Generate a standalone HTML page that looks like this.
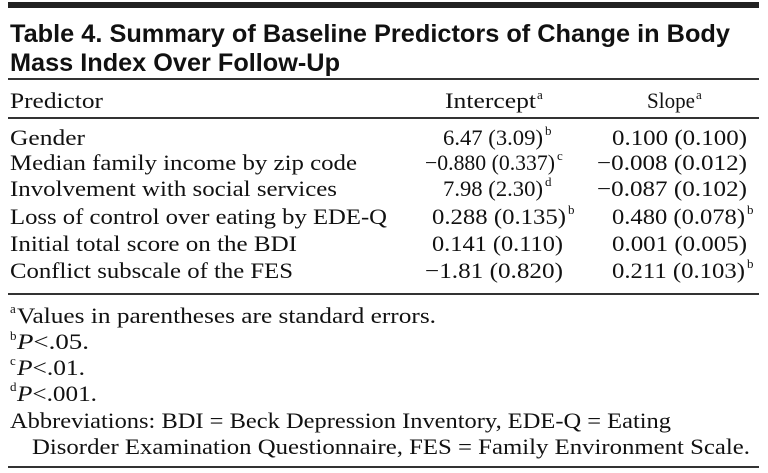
<!DOCTYPE html>
<html><head><meta charset="utf-8"><style>
html,body{margin:0;padding:0;background:#fff;}
svg{display:block;}
.t{font-family:"Liberation Sans",sans-serif;font-weight:bold;font-size:25px;fill:#111;}
.s{font-family:"Liberation Serif",serif;font-size:22px;fill:#111;}
.sup{font-family:"Liberation Serif",serif;font-size:13px;fill:#111;}
</style></head><body>
<svg width="768" height="473" viewBox="0 0 768 473" xmlns="http://www.w3.org/2000/svg">
<rect x="8" y="2" width="751" height="6" fill="#222"/>
<text class="t" x="10" y="42" textLength="720" lengthAdjust="spacingAndGlyphs">Table 4. Summary of Baseline Predictors of Change in Body</text>
<text class="t" x="10" y="71" textLength="330" lengthAdjust="spacingAndGlyphs">Mass Index Over Follow-Up</text>
<rect x="8" y="78" width="751" height="2" fill="#333"/>
<text class="s" x="10" y="108" textLength="93" lengthAdjust="spacingAndGlyphs">Predictor</text>
<text class="s" x="445" y="108" textLength="91" lengthAdjust="spacingAndGlyphs">Intercept</text><text class="sup" x="537" y="99">a</text>
<text class="s" x="647" y="108" textLength="48" lengthAdjust="spacingAndGlyphs">Slope</text><text class="sup" x="696" y="99">a</text>
<rect x="8" y="117" width="751" height="2" fill="#333"/>

<text class="s" x="10" y="145" textLength="75" lengthAdjust="spacingAndGlyphs">Gender</text>
<text class="s" x="443" y="145" textLength="100" lengthAdjust="spacingAndGlyphs">6.47 (3.09)</text><text class="sup" x="545" y="135">b</text>
<text class="s" x="612" y="145" textLength="135" lengthAdjust="spacingAndGlyphs">0.100 (0.100)</text>

<text class="s" x="10" y="170" textLength="347" lengthAdjust="spacingAndGlyphs">Median family income by zip code</text>
<text class="s" x="425" y="170" textLength="130" lengthAdjust="spacingAndGlyphs">−0.880 (0.337)</text><text class="sup" x="557" y="160">c</text>
<text class="s" x="597" y="170" textLength="150" lengthAdjust="spacingAndGlyphs">−0.008 (0.012)</text>

<text class="s" x="10" y="196" textLength="327" lengthAdjust="spacingAndGlyphs">Involvement with social services</text>
<text class="s" x="443" y="196" textLength="100" lengthAdjust="spacingAndGlyphs">7.98 (2.30)</text><text class="sup" x="545" y="186">d</text>
<text class="s" x="597" y="196" textLength="150" lengthAdjust="spacingAndGlyphs">−0.087 (0.102)</text>

<text class="s" x="10" y="224" textLength="377" lengthAdjust="spacingAndGlyphs">Loss of control over eating by EDE-Q</text>
<text class="s" x="432" y="224" textLength="134" lengthAdjust="spacingAndGlyphs">0.288 (0.135)</text><text class="sup" x="568" y="214">b</text>
<text class="s" x="612" y="224" textLength="133" lengthAdjust="spacingAndGlyphs">0.480 (0.078)</text><text class="sup" x="747" y="214">b</text>

<text class="s" x="10" y="251" textLength="287" lengthAdjust="spacingAndGlyphs">Initial total score on the BDI</text>
<text class="s" x="432" y="251" textLength="131" lengthAdjust="spacingAndGlyphs">0.141 (0.110)</text>
<text class="s" x="612" y="251" textLength="135" lengthAdjust="spacingAndGlyphs">0.001 (0.005)</text>

<text class="s" x="10" y="278" textLength="283" lengthAdjust="spacingAndGlyphs">Conflict subscale of the FES</text>
<text class="s" x="425" y="278" textLength="138" lengthAdjust="spacingAndGlyphs">−1.81 (0.820)</text>
<text class="s" x="612" y="278" textLength="133" lengthAdjust="spacingAndGlyphs">0.211 (0.103)</text><text class="sup" x="747" y="268">b</text>

<rect x="8" y="293" width="751" height="2" fill="#333"/>
<text class="sup" x="10" y="313" font-size="11">a</text><text class="s" x="17" y="323" textLength="419" lengthAdjust="spacingAndGlyphs">Values in parentheses are standard errors.</text>
<text class="sup" x="10" y="340" font-size="11">b</text><text class="s" x="17" y="349" textLength="72" lengthAdjust="spacingAndGlyphs"><tspan font-style="italic">P</tspan>&lt;.05.</text>
<text class="sup" x="10" y="365" font-size="11">c</text><text class="s" x="17" y="375" textLength="68" lengthAdjust="spacingAndGlyphs"><tspan font-style="italic">P</tspan>&lt;.01.</text>
<text class="sup" x="10" y="391" font-size="11">d</text><text class="s" x="17" y="401" textLength="80" lengthAdjust="spacingAndGlyphs"><tspan font-style="italic">P</tspan>&lt;.001.</text>
<text class="s" x="10" y="428" textLength="661" lengthAdjust="spacingAndGlyphs">Abbreviations: BDI = Beck Depression Inventory, EDE-Q = Eating</text>
<text class="s" x="32" y="454" textLength="718" lengthAdjust="spacingAndGlyphs">Disorder Examination Questionnaire, FES = Family Environment Scale.</text>
<rect x="8" y="466" width="751" height="2" fill="#333"/>
</svg>
</body></html>
